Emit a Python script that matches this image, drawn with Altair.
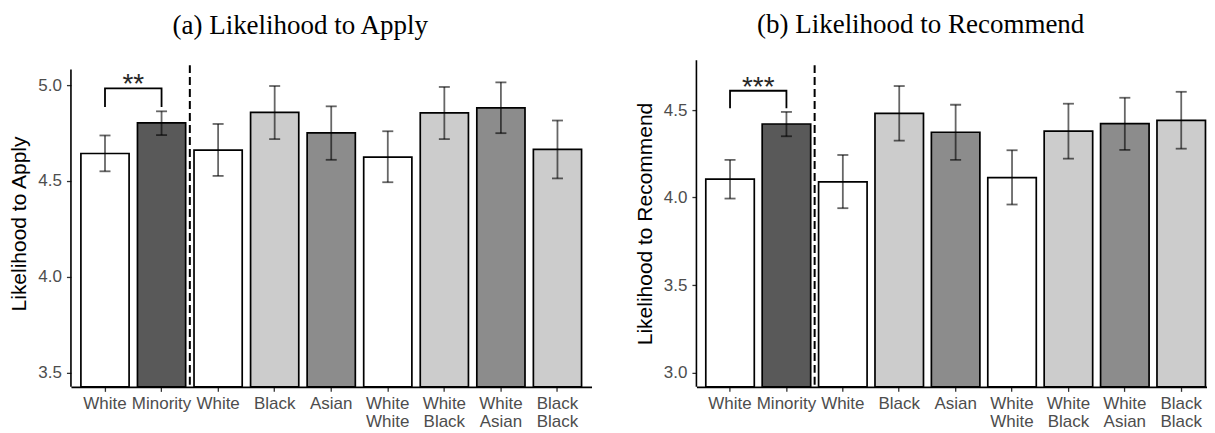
import altair as alt
import pandas as pd

# ---------------- data ----------------
keys = ["c1", "c2", "c3", "c4", "c5", "c6", "c7", "c8", "c9"]
labels = ["White", "Minority", "White", "Black", "Asian",
          "White|White", "White|Black", "White|Asian", "Black|Black"]
fills = ["#ffffff", "#595959", "#ffffff", "#cccccc", "#8c8c8c",
         "#ffffff", "#cccccc", "#8c8c8c", "#cccccc"]

apply_mean = [4.643, 4.803, 4.661, 4.857, 4.751, 4.624, 4.855, 4.881, 4.664]
apply_lo = [4.550, 4.739, 4.526, 4.718, 4.610, 4.493, 4.718, 4.749, 4.513]
apply_hi = [4.737, 4.863, 4.797, 4.995, 4.889, 4.759, 4.990, 5.014, 4.815]

rec_mean = [4.105, 4.420, 4.089, 4.481, 4.373, 4.114, 4.379, 4.422, 4.441]
rec_lo = [3.994, 4.350, 3.939, 4.325, 4.215, 3.960, 4.222, 4.272, 4.279]
rec_hi = [4.215, 4.489, 4.243, 4.637, 4.530, 4.270, 4.536, 4.570, 4.604]

apply_ticks = [3.5, 4.0, 4.5, 5.0]
rec_ticks = [3.0, 3.5, 4.0, 4.5]

apply_bracket = [4.886, 4.983]   # tip, top
rec_bracket = [4.51, 4.61]

key_js = "[" + ",".join("'%s'" % k for k in keys) + "]"
lab_js = "[" + ",".join("'%s'" % l for l in labels) + "]"
label_expr = "split(%s[indexof(%s, datum.value)], '|')" % (lab_js, key_js)

HEIGHT = 327


def panel(title, ytitle, mean, lo, hi, dom, ticks, bracket, stars,
          width, pi, po, align, axis_top):
    df = pd.DataFrame({"key": keys, "mean": mean, "lo": lo, "hi": hi, "fill": fills})
    step = width / (len(keys) - pi + 2 * po)
    half_gap = pi * step / 2

    xscale = alt.Scale(paddingInner=pi, paddingOuter=po, align=align)
    xaxis = alt.Axis(title=None, labelExpr=label_expr, labelAngle=0,
                     labelLineHeight=18, labelPadding=4)

    def X(**kw):
        return alt.X("key:N", sort=keys, scale=xscale, axis=xaxis, **kw)

    yscale = alt.Scale(domain=dom, nice=False, zero=False)
    yaxis = alt.Axis(title=ytitle, values=ticks, format=".1f", titlePadding=8,
                     labelPadding=5, domain=False)

    def Y(field):
        return alt.Y(field, scale=yscale, axis=yaxis)

    bars = alt.Chart(df).mark_bar(stroke="black", strokeWidth=1.7).encode(
        x=X(),
        y=Y("mean:Q"),
        y2=alt.datum(dom[0]),
        fill=alt.Fill("fill:N", scale=None),
    )
    err = alt.Chart(df).mark_errorbar(
        ticks=True, size=11, thickness=1.8, color="black", opacity=0.6
    ).encode(x=X(), y=Y("lo:Q"), y2="hi:Q")

    br = pd.DataFrame({"key": ["c1", "c1", "c2", "c2"],
                       "v": [bracket[0], bracket[1], bracket[1], bracket[0]],
                       "o": [0, 1, 2, 3]})
    brl = alt.Chart(br).mark_line(color="black", strokeWidth=1.8).encode(
        x=X(), y=Y("v:Q"), order="o:Q")

    st = pd.DataFrame({"key": ["c2"], "v": [bracket[1]], "t": [stars]})
    stt = alt.Chart(st).mark_text(
        fontSize=28, baseline="alphabetic", dy=5, dx=-half_gap,
        font="Liberation Sans", color="#262626"
    ).encode(x=X(bandPosition=0), y=Y("v:Q"), text="t:N")

    vl = alt.Chart(pd.DataFrame({"key": ["c3"]})).mark_rule(
        strokeDash=[8, 4], strokeWidth=2, color="black", xOffset=-half_gap
    ).encode(x=X(bandPosition=0), y=alt.value(5), y2=alt.value(HEIGHT))

    yline = alt.Chart(pd.DataFrame({"key": ["c1"]})).mark_rule(
        color="black", strokeWidth=1.6
    ).encode(x=alt.value(0), y=alt.value(axis_top), y2=alt.value(HEIGHT))

    return alt.layer(bars, err, brl, stt, vl, yline).properties(
        width=width, height=HEIGHT,
        title=alt.TitleParams(title, font="Liberation Serif", fontSize=27,
                              fontWeight="normal", anchor="middle", frame="bounds",
                              offset=20, color="black"),
    )


left = panel("(a) Likelihood to Apply", "Likelihood to Apply",
             apply_mean, apply_lo, apply_hi, [3.4255, 5.130], apply_ticks,
             apply_bracket, "**", 521, 0.148, 0.176, 0.5, 9.3)
right = panel("(b) Likelihood to Recommend", "Likelihood to Recommend",
              rec_mean, rec_lo, rec_hi, [2.918, 4.785], rec_ticks,
              rec_bracket, "***", 511, 0.14, 0.0965, 0.86, 0)

chart = alt.hconcat(left, right, spacing=42).properties(
    padding={"top": 3, "left": 0, "right": 0, "bottom": 0}
).configure_view(
    stroke=None
).configure_axis(
    grid=False,
    labelFont="Liberation Sans", labelFontSize=17, labelColor="#4d4d4d",
    titleFont="Liberation Sans", titleFontSize=21, titleFontWeight="normal",
    titleColor="black",
    tickColor="#333333", tickSize=4.5, tickWidth=1.3,
    domainColor="black", domainWidth=1.6,
)

chart.save("out.html", embed_options={"renderer": "svg", "actions": False})
